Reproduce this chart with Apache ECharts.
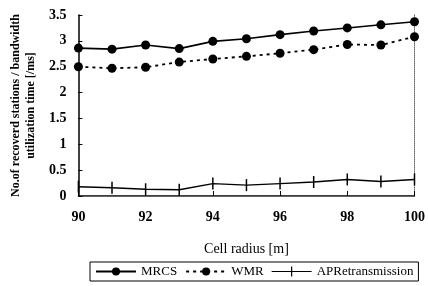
<!DOCTYPE html>
<html>
<head>
<meta charset="utf-8">
<script src="https://cdn.jsdelivr.net/npm/echarts@6/dist/echarts.min.js"></script>
<style>
  html, body { margin: 0; padding: 0; background: #fff; }
  #chart { width: 428px; height: 286px; }
</style>
</head>
<body>
<div id="chart"></div>
<script>
var radius = [90, 91, 92, 93, 94, 95, 96, 97, 98, 99, 100];
var mrcs = [2.86, 2.84, 2.92, 2.85, 2.99, 3.04, 3.12, 3.19, 3.25, 3.31, 3.37];
var wmr = [2.50, 2.47, 2.49, 2.59, 2.65, 2.70, 2.76, 2.83, 2.93, 2.92, 3.08];
var apRetrans = [0.18, 0.16, 0.13, 0.12, 0.24, 0.21, 0.24, 0.27, 0.32, 0.28, 0.32];

function pairs(vals) {
    var out = [];
    for (var i = 0; i < radius.length; i++) out.push([radius[i], vals[i]]);
    return out;
}

var font = '"Liberation Serif", "DejaVu Serif", serif';
// legend icon for AP: horizontal line crossed by a short vertical tick
var apIcon = 'path://M0,4.4H40V5.6H0Z M19.4,0H20.6V10H19.4Z';
var myChart = echarts.init(document.getElementById('chart'));
var option = {
    animation: false,
    textStyle: { fontFamily: font, color: '#000' },
    grid: { left: 67, right: 12, top: 15, bottom: 90 },
    xAxis: [{
        type: 'value', min: 90, max: 100, interval: 2,
        name: 'Cell radius [m]', nameLocation: 'middle', nameGap: 46,
        nameTextStyle: { fontFamily: font, fontSize: 14, color: '#000' },
        axisLine: { lineStyle: { color: '#000', width: 1.5 } },
        axisTick: { inside: true, length: 5, lineStyle: { color: '#000' } },
        axisLabel: { fontFamily: font, fontSize: 14, fontWeight: 'bold', color: '#000', margin: 14 },
        splitLine: { show: false }
    }, {
        type: 'value', position: 'top', min: 90, max: 100,
        axisLine: { show: true, lineStyle: { color: '#666', type: 'dotted', width: 1 } },
        axisTick: { show: false }, axisLabel: { show: false }, splitLine: { show: false }
    }],
    yAxis: [{
        type: 'value', min: 0, max: 3.5, interval: 0.5,
        name: 'No.of recoverd stations / bandwidth\nutilization time [/ms]',
        nameLocation: 'middle', nameGap: 27,
        nameTextStyle: { fontFamily: font, fontSize: 12, fontWeight: 'bold', color: '#000', lineHeight: 15 },
        axisLine: { show: true, lineStyle: { color: '#000', width: 1.5 } },
        axisTick: { inside: true, length: 4, lineStyle: { color: '#000' } },
        axisLabel: { fontFamily: font, fontSize: 14, fontWeight: 'bold', color: '#000', margin: 12 },
        splitLine: { show: false }
    }, {
        type: 'value', position: 'right', min: 0, max: 3.5,
        axisLine: { show: true, lineStyle: { color: '#666', type: 'dotted', width: 1 } },
        axisTick: { show: false }, axisLabel: { show: false }, splitLine: { show: false }
    }],
    legend: {
        top: 262, left: 90,
        itemWidth: 40, itemHeight: 10, itemGap: 8,
        padding: [3, 5, 3, 5],
        borderColor: '#000', borderWidth: 1,
        textStyle: { fontFamily: font, fontSize: 13, color: '#000' },
        data: ['MRCS', 'WMR', { name: 'APRetransmission', icon: apIcon }]
    },
    series: [{
        name: 'MRCS', type: 'line', data: pairs(mrcs),
        symbol: 'circle', symbolSize: 9,
        itemStyle: { color: '#000' },
        lineStyle: { color: '#000', width: 1.6 }
    }, {
        name: 'WMR', type: 'line', data: pairs(wmr),
        symbol: 'circle', symbolSize: 9,
        itemStyle: { color: '#000' },
        lineStyle: { color: '#000', width: 1.8, type: [3, 4] }
    }, {
        name: 'APRetransmission', type: 'line', data: pairs(apRetrans),
        symbol: 'rect', symbolSize: [1.5, 12],
        itemStyle: { color: '#000' },
        lineStyle: { color: '#000', width: 1.4 }
    }]
};
myChart.setOption(option);
</script>
</body>
</html>
